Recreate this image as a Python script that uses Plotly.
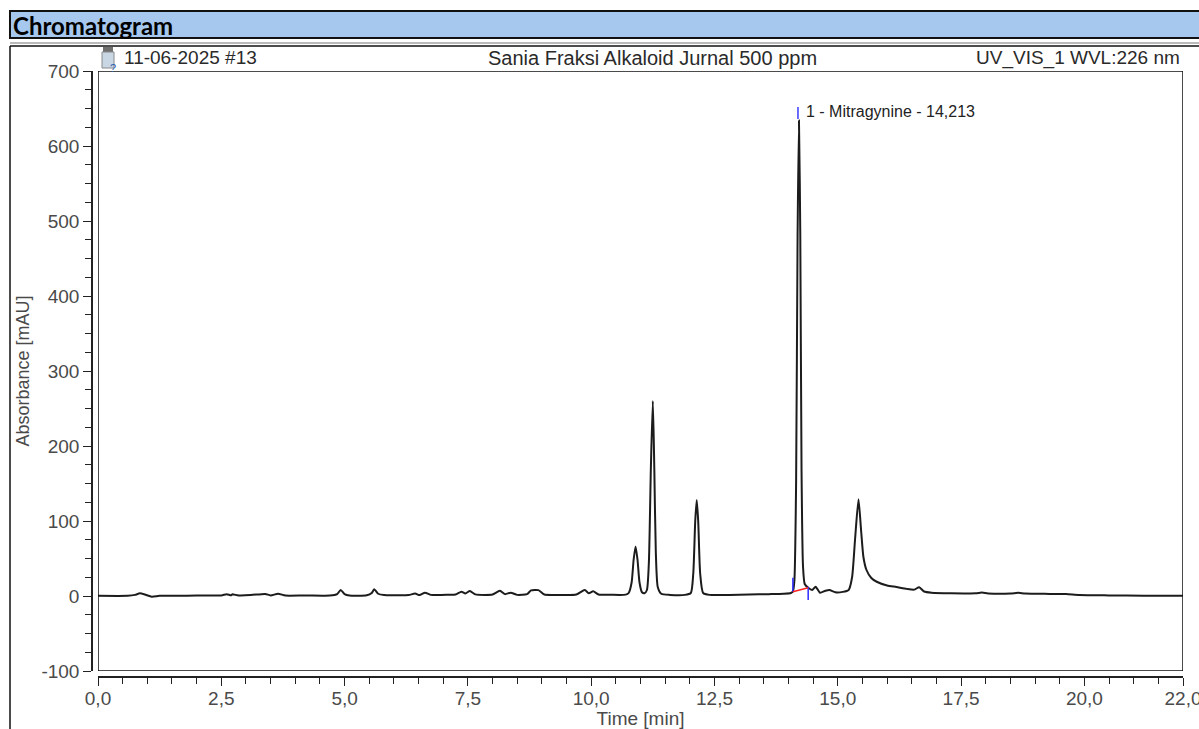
import plotly.graph_objects as go

# ---------------- data ----------------
time_min = [0.0, 0.6, 0.75, 0.85, 0.95, 1.09, 1.25, 1.6, 2.0, 2.5, 2.61, 2.7, 2.72, 2.85, 3.1,
            3.39, 3.5, 3.65, 3.8, 4.2, 4.7, 4.85, 4.92, 5.0, 5.1, 5.45, 5.55, 5.60, 5.68, 5.8,
            6.1, 6.3, 6.43, 6.52, 6.63, 6.75, 6.9, 7.1, 7.25, 7.37, 7.45, 7.54, 7.65, 7.85, 8.0,
            8.15, 8.25, 8.37, 8.5, 8.7, 8.78, 8.93, 9.05, 9.3, 9.7, 9.87, 9.95, 10.04, 10.15, 10.4,
            10.7, 10.76, 10.82, 10.86, 10.90, 10.94, 10.98, 11.03, 11.08, 11.13, 11.17, 11.21, 11.25,
            11.28, 11.31, 11.35, 11.42, 11.6, 11.9, 12.02, 12.07, 12.11, 12.14, 12.17, 12.21, 12.27,
            12.4, 12.8, 13.2, 13.6, 13.9, 14.05, 14.09, 14.12, 14.155, 14.185, 14.213, 14.24, 14.265,
            14.295, 14.33, 14.40, 14.48, 14.55, 14.64, 14.75, 14.83, 14.95, 15.1, 15.22, 15.29, 15.35,
            15.42, 15.47, 15.52, 15.58, 15.68, 15.79, 16.0, 16.19, 16.4, 16.55, 16.65, 16.75, 16.9,
            17.3, 17.8, 17.92, 18.05, 18.5, 18.66, 18.8, 19.3, 19.63, 19.9, 20.5, 21.2, 22.0]
absorbance_mau = [0.3, 0.3, 1.5, 3.6, 2.0, -0.9, 0.2, 0.3, 0.6, 0.8, 2.5, 1.0, 2.2, 0.8, 1.2,
                  2.8, 0.8, 3.0, 0.6, 0.8, 0.6, 2.5, 8.0, 2.5, 0.6, 1.0, 4.0, 9.0, 3.0, 1.2,
                  1.0, 1.3, 3.2, 1.2, 4.4, 1.5, 1.2, 1.6, 2.0, 5.8, 3.5, 6.7, 2.2, 1.5, 2.0,
                  7.0, 2.5, 4.4, 1.5, 2.5, 7.5, 7.8, 2.0, 1.5, 2.0, 8.0, 3.8, 6.2, 2.0, 1.6,
                  1.8, 4.0, 18.0, 48.0, 66.0, 48.0, 18.0, 5.0, 3.6, 8.0, 45.0, 170.0, 260.0,
                  170.0, 60.0, 12.0, 3.0, 1.5, 1.5, 4.0, 30.0, 100.0, 128.0, 100.0, 30.0, 4.0,
                  1.5, 1.5, 2.0, 2.5, 3.0, 4.0, 6.0, 20.0, 150.0, 480.0, 634.0, 480.0, 170.0,
                  40.0, 16.0, 11.0, 8.0, 12.4, 4.4, 7.0, 8.0, 5.0, 5.5, 8.0, 25.0, 75.0,
                  129.0, 90.0, 52.0, 35.0, 24.0, 19.0, 14.0, 12.0, 9.5, 8.5, 11.6, 6.0, 4.4,
                  3.6, 3.6, 4.6, 3.4, 3.2, 4.2, 3.2, 2.8, 2.6, 1.3, 0.8, 0.5, 0.2]

peak_name = "1 - Mitragynine - 14,213"
peak_rt = 14.213
peak_top = 634.0
peak_start = [14.09, 5.8, 24.4]     # time, low, high (blue start marker)
peak_end = [14.40, 12.4, -5.3]      # time, high, low (blue end marker)
baseline_y = [5.8, 11.0]            # red integration baseline at start / end

x_ticks = [0, 2.5, 5, 7.5, 10, 12.5, 15, 17.5, 20, 22]
x_ticktext = ["0,0", "2,5", "5,0", "7,5", "10,0", "12,5", "15,0", "17,5", "20,0", "22,0"]
y_ticks = [-100, 0, 100, 200, 300, 400, 500, 600, 700]
y_ticktext = ["-100", "0", "100", "200", "300", "400", "500", "600", "700"]

header_title = "Chromatogram"
sub_left = "11-06-2025 #13"
sub_center = "Sania Fraksi Alkaloid Jurnal 500 ppm"
sub_right = "UV_VIS_1 WVL:226 nm"

# ---------------- layout geometry (pixels) ----------------
W, H = 1199, 729
ML, MR, MT, MB = 92, 16, 71, 52
PW, PH = W - ML - MR, H - MT - MB


def PX(px):
    return (px - ML) / PW


def PY(py):
    return 1 - (py - MT) / PH


FONT = "Liberation Sans, Arial, sans-serif"

fig = go.Figure()
fig.add_trace(go.Scatter(x=time_min, y=absorbance_mau, mode="lines",
                         line=dict(color="#1c1c1c", width=2, shape="spline", smoothing=0.6),
                         hoverinfo="skip", showlegend=False))
# integration marks
fig.add_trace(go.Scatter(x=[peak_start[0], peak_start[0]], y=[peak_start[1], peak_start[2]],
                         mode="lines", line=dict(color="#2a2aff", width=1.5),
                         hoverinfo="skip", showlegend=False))
fig.add_trace(go.Scatter(x=[peak_end[0], peak_end[0]], y=[peak_end[1], peak_end[2]],
                         mode="lines", line=dict(color="#2a2aff", width=1.5),
                         hoverinfo="skip", showlegend=False))
fig.add_trace(go.Scatter(x=[peak_start[0], peak_end[0]], y=baseline_y,
                         mode="lines", line=dict(color="#ff2020", width=1.5),
                         hoverinfo="skip", showlegend=False))
fig.add_trace(go.Scatter(x=[peak_rt - 0.02, peak_rt - 0.02], y=[peak_top + 2, peak_top + 18],
                         mode="lines", line=dict(color="#3a3aff", width=1.5),
                         hoverinfo="skip", showlegend=False))

fig.add_annotation(x=peak_rt + 0.11, y=peak_top + 12, xref="x", yref="y", text=peak_name,
                   showarrow=False, xanchor="left", yanchor="middle",
                   font=dict(family=FONT, size=16, color="#222222"))

shapes = []
# header bar
shapes.append(dict(type="rect", xref="paper", yref="paper", x0=PX(10), x1=PX(1210),
                   y0=PY(38), y1=PY(11), fillcolor="#a6c8ee",
                   line=dict(color="#111111", width=2), layer="below"))
# outer box of the chart section (top and left edges)
shapes.append(dict(type="line", xref="paper", yref="paper", x0=PX(10), x1=PX(1210),
                   y0=PY(46), y1=PY(46), line=dict(color="#111111", width=1.5)))
shapes.append(dict(type="line", xref="paper", yref="paper", x0=PX(10), x1=PX(10),
                   y0=PY(46), y1=PY(729), line=dict(color="#111111", width=1.5)))
shapes.append(dict(type="line", xref="paper", yref="paper", x0=PX(10), x1=PX(1210),
                   y0=PY(43), y1=PY(43), line=dict(color="#777777", width=1)))
# plot frame
shapes.append(dict(type="rect", xref="x", yref="y", x0=0, x1=22, y0=-100, y1=700,
                   line=dict(color="#111111", width=1.5), layer="above"))
# vial icon
shapes.append(dict(type="rect", xref="paper", yref="paper", x0=PX(103), x1=PX(113),
                   y0=PY(52), y1=PY(47), fillcolor="#6f6f6f", line=dict(width=0)))
shapes.append(dict(type="rect", xref="paper", yref="paper", x0=PX(102), x1=PX(114),
                   y0=PY(68), y1=PY(52), fillcolor="#c9d6e3", line=dict(color="#8a8a8a", width=1)))
fig.update_layout(shapes=shapes)

fig.add_annotation(xref="paper", yref="paper", x=PX(108), y=PY(60), text="?", showarrow=False,
                   font=dict(family=FONT, size=11, color="#3060b0"))
fig.add_annotation(xref="paper", yref="paper", x=PX(11), y=PY(25), text="<b>" + header_title + "</b>",
                   showarrow=False, xanchor="left", yanchor="middle",
                   font=dict(family="Lato, Liberation Sans, sans-serif", size=24, color="#000000"))
fig.add_annotation(xref="paper", yref="paper", x=PX(122), y=PY(58), text=sub_left,
                   showarrow=False, xanchor="left", yanchor="middle",
                   font=dict(family=FONT, size=19, color="#2a2a2a"))
fig.add_annotation(xref="paper", yref="paper", x=PX(652), y=PY(58), text=sub_center,
                   showarrow=False, xanchor="center", yanchor="middle",
                   font=dict(family=FONT, size=20, color="#2a2a2a"))
fig.add_annotation(xref="paper", yref="paper", x=PX(1182), y=PY(58), text=sub_right,
                   showarrow=False, xanchor="right", yanchor="middle",
                   font=dict(family=FONT, size=19, color="#2a2a2a"))

x_dom0 = (98 - ML) / PW
y_dom0 = (677 - 671) / PH

fig.update_layout(
    width=W, height=H,
    margin=dict(l=ML, r=MR, t=MT, b=MB, pad=0, autoexpand=False),
    paper_bgcolor="white", plot_bgcolor="white",
    showlegend=False,
    xaxis=dict(domain=[x_dom0, 1], range=[0, 22], anchor="free", position=0, automargin=False,
               showline=True, linecolor="#222222", linewidth=1.5,
               ticks="outside", ticklen=8, tickwidth=1.2, tickcolor="#222222",
               tickvals=x_ticks, ticktext=x_ticktext,
               ticklabeloverflow="allow", ticklabelstandoff=-4,
               minor=dict(dtick=0.5, tick0=0, ticks="outside", ticklen=6, tickwidth=1.2,
                          tickcolor="#222222", showgrid=False),
               showgrid=False, zeroline=False,
               tickfont=dict(family=FONT, size=19, color="#4a4a4a"),
               title=dict(text="Time [min]", standoff=2,
                          font=dict(family=FONT, size=19, color="#4a4a4a"))),
    yaxis=dict(domain=[y_dom0, 1], range=[-100, 700], anchor="free", position=0, automargin=False,
               showline=True, linecolor="#222222", linewidth=1.5,
               ticks="outside", ticklen=8, tickwidth=1.2, tickcolor="#222222",
               tickvals=y_ticks, ticktext=y_ticktext,
               minor=dict(dtick=25, tick0=0, ticks="outside", ticklen=6, tickwidth=1.2,
                          tickcolor="#222222", showgrid=False),
               showgrid=False, zeroline=False,
               tickfont=dict(family=FONT, size=19, color="#4a4a4a"),
               title=dict(text="Absorbance [mAU]", standoff=6,
                          font=dict(family=FONT, size=18, color="#4a4a4a"))),
)

fig.write_html("out.html", config={"displayModeBar": False},
               post_script="document.body.style.margin='0';document.body.style.padding='0';"
                           "document.body.style.overflow='hidden';")
